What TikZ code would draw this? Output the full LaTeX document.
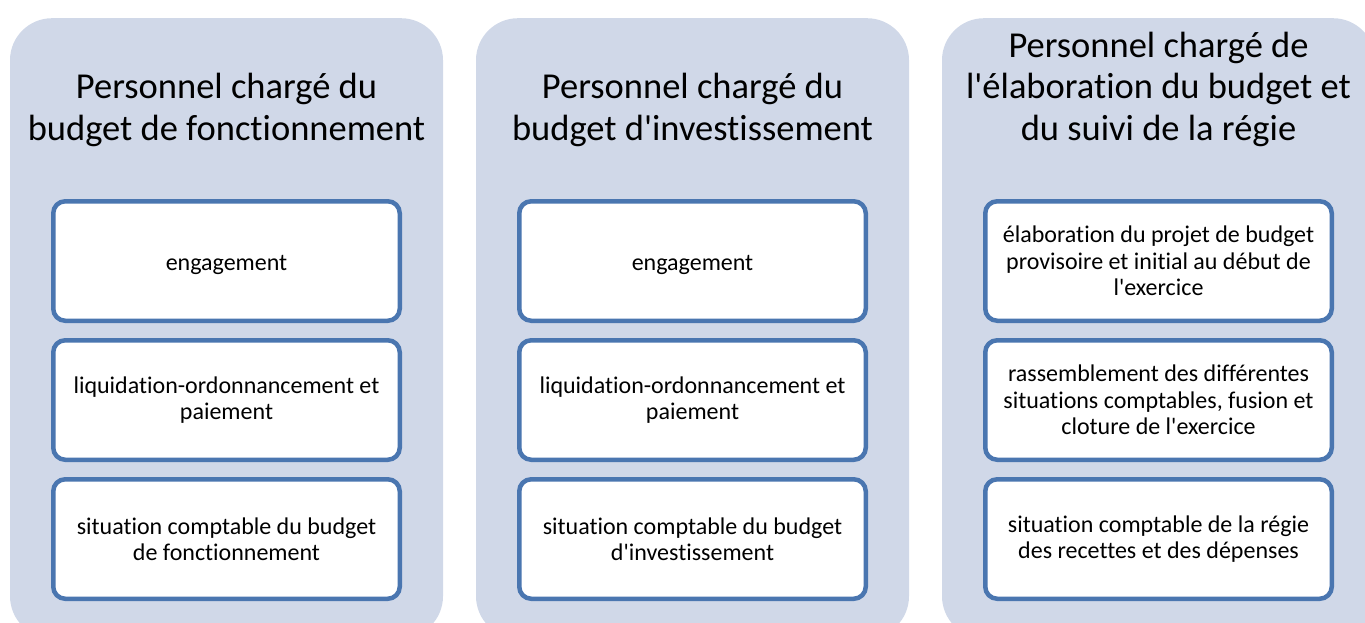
\documentclass[tikz,border=0pt]{standalone}
\usepackage{fontspec}
\setmainfont{Carlito}[Ligatures={TeXOff,NoCommon}]
\definecolor{panelfill}{HTML}{D0D8E8}
\definecolor{boxline}{HTML}{4A76B0}
\begin{document}
\begin{tikzpicture}[x=1pt,y=-1pt,
  panel/.style={fill=panelfill, rounded corners=42pt, minimum width=433pt, minimum height=620pt, anchor=north, inner sep=0pt},
  item/.style={draw=boxline, line width=4.5pt, fill=white, rounded corners=12pt, minimum width=346.5pt, minimum height=119.5pt, align=center, font=\fontsize{24}{26.5}\selectfont, inner sep=0pt},
  ptitle/.style={align=center, font=\fontsize{36.5}{41.5}\selectfont, anchor=base, inner sep=0pt}]
\useasboundingbox (0,0) rectangle (1365,622);
\clip (0,0) rectangle (1365,622);
% panels
\node[panel] (p1) at (226.5,18) {};
\node[panel] (p2) at (692.5,18) {};
\node[panel] (p3) at (1158.5,18) {};
% titles (anchored at the baseline of their last line)
\node[ptitle] (t1) at (226.5,140) {Personnel chargé du\\budget de fonctionnement};
\node[ptitle] (t2) at (692.5,140) {Personnel chargé du\\budget d'investissement};
\node[ptitle] (t3) at (1158.5,140) {Personnel chargé de\\l'élaboration du budget et\\du suivi de la régie};
% column 1
\node[item] (a1) at (226.5,261) {\raisebox{-4pt}[\height][\depth]{engagement}};
\node[item] (a2) at (226.5,400) {liquidation-ordonnancement et\\paiement};
\node[item] (a3) at (226.5,539) {situation comptable du budget\\de fonctionnement};
% column 2
\node[item] (b1) at (692.5,261) {\raisebox{-4pt}[\height][\depth]{engagement}};
\node[item] (b2) at (692.5,400) {liquidation-ordonnancement et\\paiement};
\node[item] (b3) at (692.5,539) {situation comptable du budget\\d'investissement};
% column 3
\node[item] (c1) at (1158.5,261) {élaboration du projet de budget\\provisoire et initial au début de\\l'exercice};
\node[item] (c2) at (1158.5,400) {rassemblement des différentes\\situations comptables, fusion et\\cloture de l'exercice};
\node[item] (c3) at (1158.5,539) {situation comptable de la régie\\des recettes et des dépenses};
\end{tikzpicture}
\end{document}
